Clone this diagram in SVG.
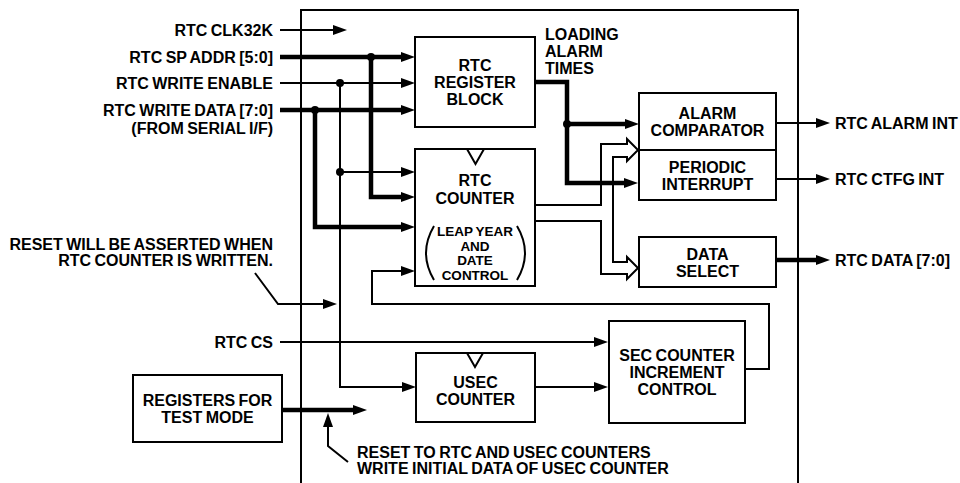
<svg xmlns="http://www.w3.org/2000/svg" width="960" height="483" viewBox="0 0 960 483">
<style>
.t{font-family:"Liberation Sans",Arial,Helvetica,sans-serif;font-weight:bold;font-size:16px;word-spacing:-1px;fill:#000}
.s{font-size:13.5px}
.m{text-anchor:middle}
.e{text-anchor:end}
.box{fill:#fff;stroke:#000;stroke-width:2}
.ln{fill:none;stroke:#000;stroke-width:2}
.tk{stroke-width:4.5}
.a{marker-end:url(#ah)}
</style>
<defs>
<marker id="ah" markerUnits="userSpaceOnUse" markerWidth="14" markerHeight="10" refX="0" refY="5" orient="auto" overflow="visible">
<path d="M0,0 L14,5 L0,10 z" fill="#000"/>
</marker>
</defs>
<rect width="960" height="483" fill="#fff"/>
<path class="ln" d="M301,495 V10 H798 V495"/>

<g id="connectors">
<path class="ln a" d="M280,30 H333"/>
<path class="ln tk a" d="M280,57 H401"/>
<path class="ln tk a" d="M371,57 V197 H401"/>
<path class="ln a" d="M280,83 H401"/>
<path class="ln a" d="M340,83 V387 H402"/>
<path class="ln a" d="M340,172 H401"/>
<path class="ln tk a" d="M280,110 H401"/>
<path class="ln tk a" d="M315,110 V227 H401"/>
<path class="ln a" d="M745,369 H769 V304 H372 V271 H401"/>
<path class="ln a" d="M255,273 L278,304 H323"/>
<path class="ln a" d="M280,342 H594"/>
<path class="ln a" d="M535,387 H594"/>
<path class="ln tk a" d="M282,410 H353"/>
<path class="ln a" d="M348,462 L328,446 V427"/>
<path class="ln tk a" d="M535,82 H567 V183 H624"/>
<path class="ln tk a" d="M567,124 H625"/>
<path class="ln" d="M535,205 H601 V144 H627 V139 L638,150 L627,161 V157 H613 V262 H627 V257 L638,268 L627,279 V274 H601 V221 H535"/>
<path class="ln a" d="M776,123 H816"/>
<path class="ln a" d="M776,179 H816"/>
<path class="ln tk a" d="M776,260 H816"/>
<circle cx="371" cy="57" r="4"/>
<circle cx="340" cy="83" r="4"/>
<circle cx="315" cy="110" r="4"/>
<circle cx="340" cy="172" r="4"/>
<circle cx="567" cy="124" r="4"/>
</g>

<g id="reg_block">
<rect class="box" x="415" y="37" width="120" height="90"/>
<text class="t m" x="475" y="70.5">RTC</text>
<text class="t m" x="475" y="87.5">REGISTER</text>
<text class="t m" x="475" y="104.5">BLOCK</text>
</g>
<g id="rtc_counter">
<rect class="box" x="415" y="149" width="120" height="137"/>
<path class="ln" d="M467,149 L475.5,164 L484,149"/>
<text class="t m" x="475" y="186">RTC</text>
<text class="t m" x="475" y="204">COUNTER</text>
<path class="ln" d="M434,226 Q418,253 434,280"/>
<path class="ln" d="M517,226 Q533,253 517,280"/>
<text class="t s m" x="475" y="236">LEAP YEAR</text>
<text class="t s m" x="475" y="250.5">AND</text>
<text class="t s m" x="475" y="265">DATE</text>
<text class="t s m" x="475" y="279.5">CONTROL</text>
</g>
<g id="alarm_comparator">
<rect class="box" x="639" y="93" width="137" height="57"/>
<text class="t m" x="707.5" y="118.5">ALARM</text>
<text class="t m" x="707.5" y="135.5">COMPARATOR</text>
</g>
<g id="periodic_interrupt">
<rect class="box" x="639" y="150" width="137" height="50"/>
<text class="t m" x="707.5" y="172.5">PERIODIC</text>
<text class="t m" x="707.5" y="190">INTERRUPT</text>
</g>
<g id="data_select">
<rect class="box" x="639" y="237" width="137" height="50"/>
<text class="t m" x="707.5" y="259.5">DATA</text>
<text class="t m" x="707.5" y="276.5">SELECT</text>
</g>
<g id="sec_counter">
<rect class="box" x="609" y="321" width="136" height="102"/>
<text class="t m" x="677" y="361">SEC COUNTER</text>
<text class="t m" x="677" y="378">INCREMENT</text>
<text class="t m" x="677" y="395">CONTROL</text>
</g>
<g id="usec_counter">
<rect class="box" x="416" y="353" width="119" height="69"/>
<path class="ln" d="M467,353 L475,367 L483,353"/>
<text class="t m" x="475.5" y="388">USEC</text>
<text class="t m" x="475.5" y="405">COUNTER</text>
</g>
<g id="test_regs">
<rect class="box" x="133" y="375" width="149" height="67"/>
<text class="t m" x="207.5" y="406">REGISTERS FOR</text>
<text class="t m" x="207.5" y="423">TEST MODE</text>
</g>

<g id="labels">
<text class="t e" x="273" y="36">RTC CLK32K</text>
<text class="t e" x="273" y="63">RTC SP ADDR [5:0]</text>
<text class="t e" x="273" y="89">RTC WRITE ENABLE</text>
<text class="t e" x="273" y="116">RTC WRITE DATA [7:0]</text>
<text class="t e" x="273" y="133.5">(FROM SERIAL I/F)</text>
<text class="t e" x="273" y="250">RESET WILL BE ASSERTED WHEN</text>
<text class="t e" x="273" y="266">RTC COUNTER IS WRITTEN.</text>
<text class="t e" x="273" y="348">RTC CS</text>
<text class="t" x="545" y="40">LOADING</text>
<text class="t" x="545" y="57">ALARM</text>
<text class="t" x="545" y="74">TIMES</text>
<text class="t" x="835" y="129">RTC ALARM INT</text>
<text class="t" x="835" y="185">RTC CTFG INT</text>
<text class="t" x="835" y="266">RTC DATA [7:0]</text>
<text class="t" x="357" y="458">RESET TO RTC AND USEC COUNTERS</text>
<text class="t" x="357" y="474">WRITE INITIAL DATA OF USEC COUNTER</text>
</g>
</svg>
